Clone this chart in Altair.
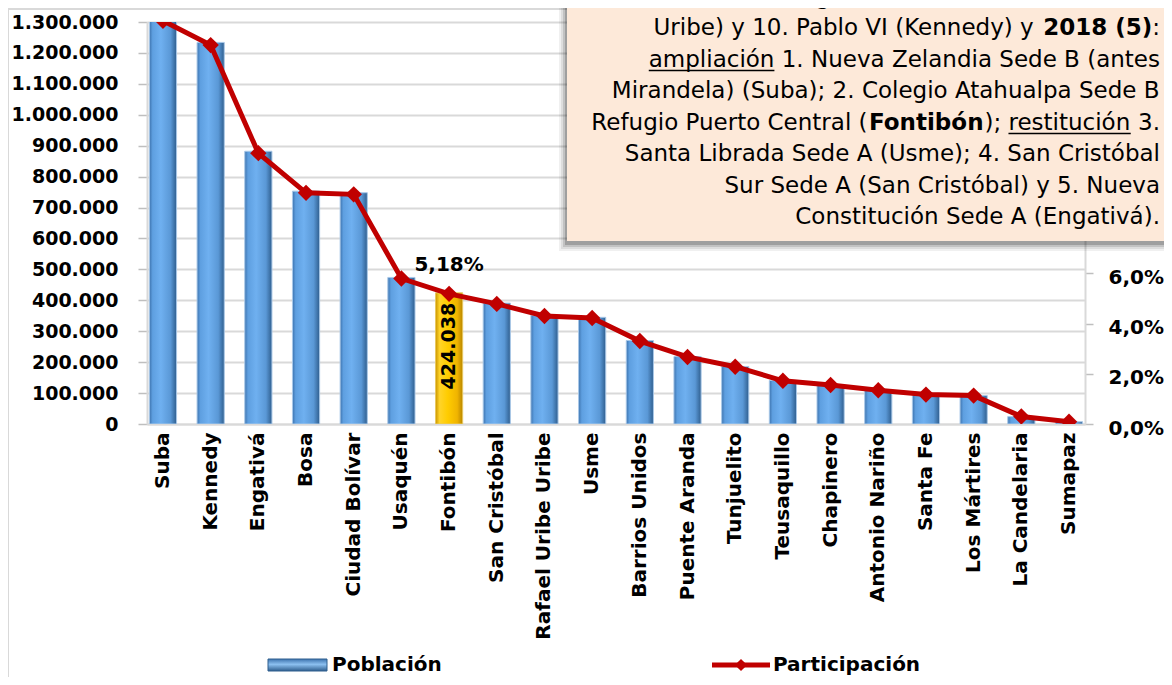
import unicodedata
import altair as alt
import pandas as pd

# ---------------- data ----------------
localidades = ["Suba", "Kennedy", "Engativá", "Bosa", "Ciudad Bolívar", "Usaquén",
               "Fontibón", "San Cristóbal", "Rafael Uribe Uribe", "Usme",
               "Barrios Unidos", "Puente Aranda", "Tunjuelito", "Teusaquillo",
               "Chapinero", "Antonio Nariño", "Santa Fe", "Los Mártires",
               "La Candelaria", "Sumapaz"]
poblacion = [1310000, 1234000, 882000, 753000, 748000, 474000, 424038, 391000,
             352000, 345000, 270000, 218000, 186000, 141000, 127000, 109000,
             95000, 92000, 24000, 7300]
participacion = [16.05, 15.08, 10.78, 9.20, 9.14, 5.79, 5.18, 4.78, 4.30, 4.22,
                 3.30, 2.67, 2.28, 1.72, 1.55, 1.34, 1.17, 1.13, 0.30, 0.09]
destacada = "Fontibón"

ticks_poblacion = list(range(0, 1300001, 100000))
ticks_participacion = [0, 2, 4, 6]

# note box text: (segment, weight, underline)
nota = [
    [("del Corral (Engativá); 9. María Cano (Rafael", "normal", False)],
    [("Uribe) y 10. Pablo VI (Kennedy) y ", "normal", False), ("2018 (5)", "bold", False), (":", "normal", False)],
    [("ampliación", "normal", True), (" 1. Nueva Zelandia Sede B (antes", "normal", False)],
    [("Mirandela) (Suba); 2. Colegio Atahualpa Sede B", "normal", False)],
    [("Refugio Puerto Central (", "normal", False), ("Fontibón", "bold", False), ("); ", "normal", False),
     ("restitución", "normal", True), (" 3.", "normal", False)],
    [("Santa Librada Sede A (Usme); 4. San Cristóbal", "normal", False)],
    [("Sur Sede A (San Cristóbal) y 5. Nueva", "normal", False)],
    [("Constitución Sede A (Engativá).", "normal", False)],
]
leyenda_barras = "Población"
leyenda_linea = "Participación"

df = pd.DataFrame({"localidad": localidades, "poblacion": poblacion,
                   "participacion": participacion})

# ---------------- layout helpers ----------------
FONT = "DejaVu Sans"
W, H = 938, 402
PX0, PY0 = 147, 22          # page position of plot origin


def px(x):
    return x - PX0


def py(y):
    return y - PY0


REG = {' ': 651, '(': 799, ')': 799, ';': 690, ':': 690, '.': 651, ',': 651,
       'A': 1401, 'B': 1405, 'C': 1430, 'D': 1577, 'E': 1294, 'F': 1178, 'G': 1587,
       'I': 604, 'K': 1343, 'L': 1141, 'M': 1767, 'N': 1532, 'P': 1235, 'R': 1423,
       'S': 1300, 'U': 1499, 'V': 1401, 'Z': 1403,
       'a': 1255, 'b': 1300, 'c': 1126, 'd': 1300, 'e': 1260, 'f': 721, 'g': 1300,
       'h': 1298, 'i': 569, 'l': 569, 'm': 1995, 'n': 1298, 'o': 1253, 'p': 1300,
       'r': 842, 's': 1067, 't': 803, 'u': 1298, 'v': 1212, 'y': 1212, 'z': 1075}
for d in "0123456789":
    REG[d] = 1303
BOLD = {' ': 713, '(': 938, ')': 938, ':': 819, '.': 780, 'F': 1399, 'o': 1407,
        'n': 1458, 't': 979, 'i': 702, 'b': 1466}
for d in "0123456789":
    BOLD[d] = 1425


def text_width(s, weight, size):
    table = BOLD if weight == "bold" else REG
    tot = 0
    for ch in s:
        base = unicodedata.normalize("NFD", ch)[0]
        tot += table.get(base, 1300)
    return tot / 2048.0 * size


one = alt.Data(values=[{"k": 0}])


def txt(s, x, y, size, weight="normal", align="left", color="black"):
    return alt.Chart(one).mark_text(text=s, font=FONT, fontSize=size, fontWeight=weight,
                                    align=align, baseline="middle", color=color).encode(
        x=alt.value(x), y=alt.value(y))


def box(x, x2, y, y2, **kw):
    return alt.Chart(one).mark_rect(**kw).encode(
        x=alt.value(x), x2=alt.value(x2), y=alt.value(y), y2=alt.value(y2))


# ---------------- main chart ----------------
blue_grad = alt.Gradient(gradient="linear", x1=0, y1=0, x2=1, y2=0, stops=[
    alt.GradientStop(color="#3D73AE", offset=0),
    alt.GradientStop(color="#5E9FE0", offset=0.12),
    alt.GradientStop(color="#6FB0F0", offset=0.42),
    alt.GradientStop(color="#5A98D6", offset=0.78),
    alt.GradientStop(color="#2F5E8E", offset=1)])
gold_grad = alt.Gradient(gradient="linear", x1=0, y1=0, x2=1, y2=0, stops=[
    alt.GradientStop(color="#C89400", offset=0),
    alt.GradientStop(color="#FFD42A", offset=0.15),
    alt.GradientStop(color="#FFCC00", offset=0.45),
    alt.GradientStop(color="#F0B400", offset=0.8),
    alt.GradientStop(color="#B88600", offset=1)])

x_enc = alt.X("localidad:N", sort=localidades, title=None,
              scale=alt.Scale(paddingInner=0.43, paddingOuter=0.05),
              axis=alt.Axis(labelAngle=270, labelAlign="right", labelBaseline="middle",
                            labelFont=FONT, labelFontSize=20, labelFontWeight="bold",
                            labelColor="black", labelPadding=8, ticks=False,
                            domainColor="#D9D9D9", domainWidth=2, labelLimit=300))

y_pop = alt.Y("poblacion:Q", title=None,
              scale=alt.Scale(domain=[0, 1300000], nice=False),
              axis=alt.Axis(orient="left", values=ticks_poblacion,
                            labelExpr="replace(format(datum.value, ','), regexp(',', 'g'), '.')",
                            labelFont=FONT, labelFontSize=19, labelFontWeight="bold",
                            labelColor="black", labelPadding=20, tickSize=9,
                            tickColor="#BFBFBF", tickWidth=1.5, domainColor="#D9D9D9",
                            domainWidth=2, grid=True, gridColor="#D9D9D9", gridWidth=2))

y_pct = alt.Y("participacion:Q", title=None,
              scale=alt.Scale(domain=[0, 16], nice=False),
              axis=alt.Axis(orient="right", values=ticks_participacion,
                            labelExpr="replace(format(datum.value, '.1f'), '.', ',') + '%'",
                            labelFont=FONT, labelFontSize=20, labelFontWeight="bold",
                            labelColor="black", labelPadding=15, labelOffset=4, tickSize=8,
                            tickColor="#BFBFBF", tickWidth=1.5, domainColor="#D9D9D9",
                            domainWidth=2, grid=False))

base = alt.Chart(df)

bars_blue = base.transform_filter(alt.datum.localidad != destacada).mark_bar(
    fill=blue_grad, stroke="#A9C8E8", strokeWidth=1, clip=True).encode(x=x_enc, y=y_pop)
bars_gold = base.transform_filter(alt.datum.localidad == destacada).mark_bar(
    fill=gold_grad, stroke="#E8C860", strokeWidth=1, clip=True).encode(x=x_enc, y=y_pop)
pop_label = base.transform_filter(alt.datum.localidad == destacada).transform_calculate(
    lbl="replace(format(datum.poblacion, ','), ',', '.')").mark_text(
    angle=270, align="right", baseline="middle", dx=-10, font=FONT, fontSize=19,
    fontWeight="bold", color="black").encode(x=x_enc, y=y_pop, text="lbl:N")

bars_group = alt.layer(bars_blue, bars_gold, pop_label)

line = base.mark_line(color="#C00000", strokeWidth=5, clip=True).encode(x=x_enc, y=y_pct)
points = base.mark_point(shape="diamond", filled=True, size=270, color="#C00000",
                         opacity=1, clip=True).encode(x=x_enc, y=y_pct)
pct_label = base.transform_filter(alt.datum.localidad == destacada).transform_calculate(
    lbl="replace(format(datum.participacion, '.2f'), '.', ',') + '%'").mark_text(
    baseline="middle", dy=-29, font=FONT, fontSize=20, fontWeight="bold",
    color="black").encode(x=x_enc, y=y_pct, text="lbl:N")

# ---------------- annotations ----------------
ann = []
# chart border
ann.append(box(px(8), px(1400), py(9), py(900), fillOpacity=0, stroke="#D9D9D9", strokeWidth=2))

# note box with soft shadow
BX, BY2 = 567, 241
for off, op in [(9, 0.06), (7, 0.08), (5, 0.12), (3, 0.18)]:
    ann.append(box(px(BX - off + 1), px(1400), py(-40), py(BY2 + off + 1), fill="#000000",
                   opacity=op, strokeWidth=0))
ann.append(box(px(BX), px(1400), py(-40), py(BY2), fill="#FDE9D9", strokeWidth=0))

R = 1160
FS = 23
for i, segs in enumerate(nota):
    yc = -3.5 + 31.5 * i
    total = sum(text_width(s, w, FS) for s, w, u in segs)
    x = R - total
    for s, w, u in segs:
        lead = len(s) - len(s.lstrip(" "))
        core = s.strip(" ")
        x0 = x + text_width(" " * lead, w, FS)
        wc = text_width(core, w, FS)
        ann.append(txt(core, px(x0), py(yc), FS, weight=w))
        if u:
            ann.append(alt.Chart(one).mark_rule(color="black", strokeWidth=1.5).encode(
                x=alt.value(px(x0)), x2=alt.value(px(x0 + wc)), y=alt.value(py(yc + 11))))
        x += text_width(s, w, FS)

# legend
LY = 665
leg_grad = alt.Gradient(gradient="linear", x1=0, y1=0, x2=0, y2=1, stops=[
    alt.GradientStop(color="#3D73AE", offset=0),
    alt.GradientStop(color="#8CC0F0", offset=0.45),
    alt.GradientStop(color="#2F5E8E", offset=1)])
ann.append(box(px(268), px(327), py(LY - 6), py(LY + 6), fill=leg_grad,
               stroke="#2F5E8E", strokeWidth=1))
ann.append(txt(leyenda_barras, px(332), py(LY), 20, weight="bold"))
ann.append(alt.Chart(one).mark_rule(color="#C00000", strokeWidth=5).encode(
    x=alt.value(px(712)), x2=alt.value(px(770)), y=alt.value(py(LY))))
ann.append(alt.Chart(one).mark_point(shape="diamond", filled=True, size=150, color="#C00000",
                                     opacity=1).encode(x=alt.value(px(741)), y=alt.value(py(LY))))
ann.append(txt(leyenda_linea, px(773), py(LY), 20, weight="bold"))

line_group = alt.layer(line, points, pct_label, *ann)

chart = alt.layer(bars_group, line_group).resolve_scale(y="independent").properties(
    width=W, height=H,
    autosize=alt.AutoSizeParams(type="none"),
    padding={"left": 139, "top": 14, "right": 79, "bottom": 253},
    background="white",
).configure_view(strokeWidth=0)

chart.save("out.html", embed_options={"renderer": "svg", "actions": False})
